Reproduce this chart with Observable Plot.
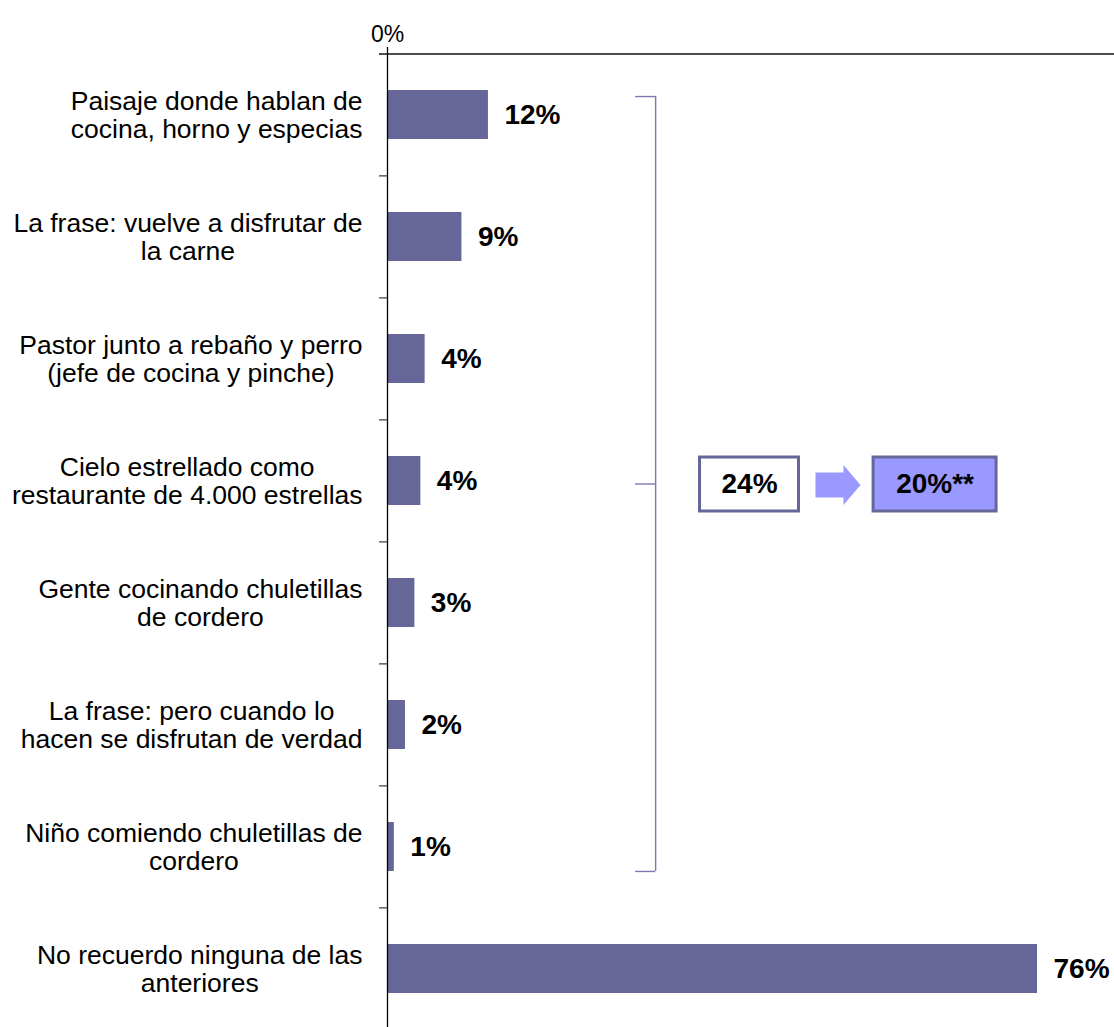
<!DOCTYPE html>
<html><head><meta charset="utf-8">
<script src="https://cdn.jsdelivr.net/npm/d3@7"></script>
<script src="https://cdn.jsdelivr.net/npm/@observablehq/plot@0.6"></script>
<style>body{margin:0;background:#fff}</style>
</head><body><div id="chart"></div>
<script>
const categories = [
  "Paisaje donde hablan de\ncocina, horno y especias",
  "La frase: vuelve a disfrutar de\nla carne",
  "Pastor junto a rebaño y perro\n(jefe de cocina y pinche)",
  "Cielo estrellado como\nrestaurante de 4.000 estrellas",
  "Gente cocinando chuletillas\nde cordero",
  "La frase: pero cuando lo\nhacen se disfrutan de verdad",
  "Niño comiendo chuletillas de\ncordero",
  "No recuerdo ninguna de las\nanteriores"
];
const values = [0.118, 0.087, 0.044, 0.039, 0.032, 0.021, 0.008, 0.76];
const valueLabels = ["12%", "9%", "4%", "4%", "3%", "2%", "1%", "76%"];

// summary annotation (bracket over the first seven items)
const summaryLabels = ["24%", "20%**"];
const summaryX1 = [0.3654, 0.5683];
const summaryX2 = [0.4811, 0.7121];
const summaryFills = ["#ffffff", "#9999ff"];
const arrowX = 0.5267;
const bracketX = 0.3135;
const bracketStubX = 0.290;

const FONT = '"Liberation Sans", Arial, Helvetica, sans-serif';
const BAR = "#666699";
const LIGHT = "#9999ff";
const BRACKET = "#7b7bb0";
const LABEL_SIZE = 26.5;

const ctx = document.createElement("canvas").getContext("2d");
ctx.font = `${LABEL_SIZE}px ${FONT}`;
const widthOf = s => Math.max(...s.split("\n").map(l => ctx.measureText(l).width));

const rows = categories.map((c, i) => ({cat: c, value: values[i], label: valueLabels[i]}));
const summary = summaryLabels.map((t, i) => ({label: t, x1: summaryX1[i], x2: summaryX2[i], fill: summaryFills[i]}));

const yTop = 52, yBottom = 1030;
const step = (yBottom - yTop) / categories.length;
const bw = step * 0.4;

const arrowSymbol = {
  draw(context) {
    context.moveTo(-22.5, -12.5);
    context.lineTo(5.5, -12.5);
    context.lineTo(5.5, -20);
    context.lineTo(22.5, 0);
    context.lineTo(5.5, 20);
    context.lineTo(5.5, 12.5);
    context.lineTo(-22.5, 12.5);
    context.closePath();
  }
};

const chart = Plot.plot({
  width: 1114,
  height: 1027,
  marginTop: yTop,
  marginBottom: 0,
  marginLeft: 387,
  marginRight: 0,
  style: {fontFamily: FONT, fontSize: "22px", color: "#000", background: "#fff", overflow: "visible"},
  x: {domain: [0, 0.85], range: [387, 1114], axis: null},
  y: {domain: categories, range: [yTop, yBottom], paddingInner: 0.6, paddingOuter: 0.3, axis: null},
  marks: [
    Plot.barX(rows, {x: "value", y: "cat", fill: BAR}),
    Plot.ruleX([0], {stroke: "#000", strokeWidth: 1.3, insetTop: -5}),
    Plot.ruleY([categories[0]], {y: d => d, x1: () => 0, x2: () => 0.85, insetLeft: -8, dy: -step / 2, stroke: "#111", strokeWidth: 1.5}),
    Plot.ruleY(categories.slice(1), {y: d => d, x1: () => 0, x2: () => 0, insetLeft: -8, dy: -step / 2, stroke: "#444", strokeWidth: 1.3}),
    Plot.axisX({anchor: "top", ticks: [0], tickFormat: d3.format(".0%"), tickSize: 5, tickPadding: 6, fontSize: 23, label: null, stroke: "#000"}),
    ...categories.map(c => Plot.text([c], {
      x: () => 0, y: d => d, text: d => d,
      textAnchor: "middle", lineAnchor: "middle", lineHeight: 1.045,
      fontSize: LABEL_SIZE, fill: "#000", dx: -(25 + widthOf(c) / 2)
    })),
    Plot.text(rows, {x: "value", y: "cat", text: "label", textAnchor: "start", dx: 16, fontWeight: "bold", fontSize: 28, fill: "#000"}),
    // bracket
    Plot.ruleX([bracketX], {x: d => d, y1: () => categories[0], y2: () => categories[6], insetTop: 6, stroke: BRACKET, strokeWidth: 1.4}),
    Plot.ruleY([categories[0]], {y: d => d, x1: () => bracketStubX, x2: () => bracketX, dy: -bw / 2 + 6, stroke: BRACKET, strokeWidth: 1.4}),
    Plot.ruleY([categories[3]], {y: d => d, x1: () => bracketStubX, x2: () => bracketX, dy: 3, stroke: BRACKET, strokeWidth: 1.4}),
    Plot.ruleY([categories[6]], {y: d => d, x1: () => bracketStubX, x2: () => bracketX, dy: bw / 2, stroke: BRACKET, strokeWidth: 1.4}),
    // summary boxes
    Plot.barX([summary[0]], {x1: "x1", x2: "x2", y: () => categories[3], fill: summaryFills[0], stroke: BAR, strokeWidth: 3, insetTop: 1, insetBottom: -6}),
    Plot.barX([summary[1]], {x1: "x1", x2: "x2", y: () => categories[3], fill: summaryFills[1], stroke: BAR, strokeWidth: 3, insetTop: 1, insetBottom: -6}),
    Plot.text(summary, {x: d => (d.x1 + d.x2) / 2, y: () => categories[3], text: "label", fontWeight: "bold", fontSize: 28, fill: "#000", dy: 3}),
    Plot.dot([arrowX], {x: d => d, y: () => categories[3], symbol: arrowSymbol, r: 10, fill: LIGHT, stroke: "none", dy: 4})
  ]
});
document.getElementById("chart").append(chart);
</script>
</body></html>
